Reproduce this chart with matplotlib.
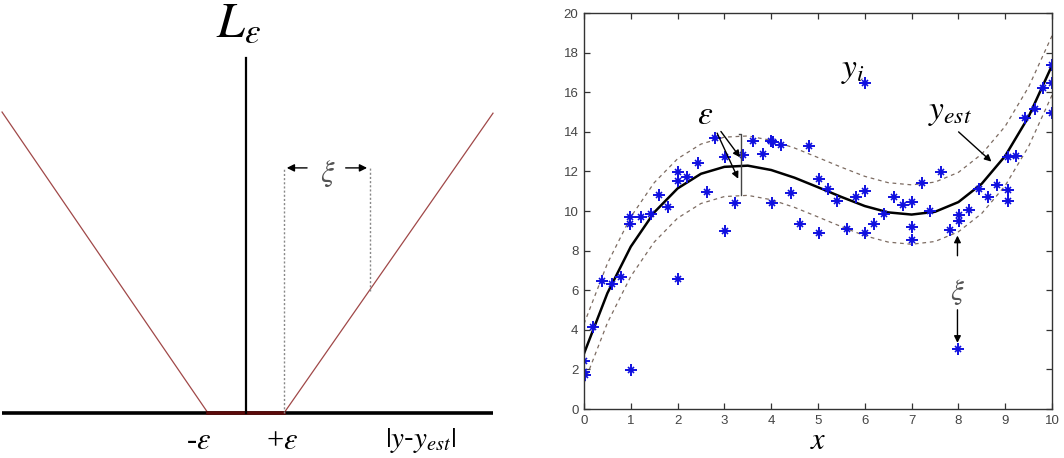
import matplotlib
matplotlib.use("Agg")
import matplotlib.pyplot as plt
import numpy as np

plt.rcParams.update({
    "font.family": "Liberation Sans",
    "mathtext.fontset": "stix",
})

# ---- left panel: epsilon-insensitive loss (residual units, eps = 1) ----
LOSS_R = [-6.42, -1.0, 1.0, 6.5]
LOSS_L = [7.92, 0.0, 0.0, 7.89]
EPS_L = 1.0
AXIS_R = [-6.42, 6.5]
AXIS_TOP = 9.34
XI_R = 3.26        # second dotted line
XI_LOSS = 3.2      # where it meets the loss line
XI_TOP = 6.45

# ---- right panel: SVR fit ----
CURVE_X = [0, 0.5, 1, 1.5, 2, 2.5, 3, 3.5, 4, 4.5, 5, 5.5, 6, 6.5, 7, 7.5, 8,
           8.5, 9, 9.5, 10]
CURVE_Y = [2.8, 5.85, 8.2, 9.93, 11.14, 11.88, 12.23, 12.29, 12.07, 11.68,
           11.2, 10.71, 10.25, 9.93, 9.82, 9.96, 10.45, 11.38, 12.78, 14.76, 17.35]
EPS_R = 1.5

PTS_X = [0.00, 0.00, 0.02, 0.20, 0.39, 0.60, 0.80, 0.99, 0.99, 1.00, 1.21, 1.43,
         1.60, 1.80, 2.01, 2.01, 2.01, 2.21, 2.43, 2.62, 2.80, 3.01, 3.01, 3.23,
         3.39, 3.62, 3.83, 3.99, 4.04, 4.01, 4.21, 4.42, 4.61, 4.81, 5.02, 5.02,
         5.21, 5.41, 5.61, 5.82, 6.01, 6.01, 6.00, 6.20, 6.41, 6.62, 6.81, 7.01,
         7.01, 7.01, 7.23, 7.40, 7.62, 7.82, 8.01, 8.01, 8.00, 8.23, 8.44, 8.63,
         8.83, 9.06, 9.06, 9.06, 9.24, 9.43, 9.64, 9.81, 10.00, 10.00, 10.00]
PTS_Y = [2.44, 1.85, 1.70, 4.12, 6.47, 6.33, 6.65, 9.68, 9.35, 1.98, 9.70, 9.83,
         10.79, 10.19, 11.99, 11.53, 6.59, 11.73, 12.41, 10.96, 13.70, 12.72, 8.97, 10.40,
         12.84, 13.55, 12.88, 13.53, 13.48, 10.40, 13.34, 10.93, 9.32, 13.27, 11.61, 8.91,
         11.10, 10.48, 9.11, 10.69, 11.00, 8.91, 16.45, 9.32, 9.86, 10.69, 10.30, 10.43,
         9.21, 8.54, 11.41, 10.01, 11.98, 9.03, 9.50, 9.78, 3.01, 10.07, 11.10, 10.70,
         11.31, 11.06, 10.50, 12.71, 12.76, 14.70, 15.13, 16.21, 17.37, 16.45, 14.93]

XTICKS = list(range(0, 11))
YTICKS = list(range(0, 21, 2))

fig = plt.figure(figsize=(10.64, 4.58), dpi=100)

# ================= left diagram =================
axl = fig.add_axes([0, 0, 500 / 1064, 1])
axl.set_xlim(-246 / 38, 254 / 38)
axl.set_ylim(-45 / 38, 413 / 38)
axl.axis("off")

axl.plot(LOSS_R[:2], LOSS_L[:2], color="#a04848", lw=0.9)
axl.plot(LOSS_R[2:], LOSS_L[2:], color="#a04848", lw=0.9)
axl.plot(AXIS_R, [0, 0], color="black", lw=2.6, solid_capstyle="butt")
axl.plot(LOSS_R[1:3], LOSS_L[1:3], color="#5a0a0a", lw=2.6)
axl.plot([0, 0], [0, AXIS_TOP], color="black", lw=1.6)
axl.plot([EPS_L, EPS_L], [0, XI_TOP], color="#888888", lw=1.0, ls=(0, (1.5, 1.5)))
axl.plot([XI_R, XI_R], [XI_LOSS, XI_TOP], color="#888888", lw=1.0, ls=(0, (1.5, 1.5)))
arw = dict(arrowstyle="-|>", color="black", lw=1.0, mutation_scale=11)
axl.annotate("", xy=(EPS_L, XI_TOP), xytext=(EPS_L + 0.68, XI_TOP), arrowprops=arw)
axl.annotate("", xy=(XI_R, XI_TOP), xytext=(XI_R - 0.71, XI_TOP), arrowprops=arw)
axl.text((EPS_L + XI_R) / 2 + 0.03, XI_TOP - 0.15, r"$\xi$", fontsize=22,
         color="#555555", ha="center", va="center")
axl.text(-0.2, 10.25, r"$L_{\varepsilon}$", fontsize=36, ha="center", va="center")
axl.text(-EPS_L - 0.25, -0.75, r"-$\varepsilon$", family="Liberation Serif",
         fontsize=22, ha="center", va="center")
axl.text(EPS_L - 0.05, -0.75, r"+$\varepsilon$", family="Liberation Serif",
         fontsize=22, ha="center", va="center")
axl.text(4.6, -0.72, r"$|y$-$y_{est}|$", fontsize=21, ha="center", va="center")

# ================= right plot =================
axr = fig.add_axes([584 / 1064, 49 / 458, 468 / 1064, 396 / 458])
cx = np.array(CURVE_X)
cy = np.array(CURVE_Y)
band = dict(color="#7d6c62", lw=0.9, ls=(0, (3, 3)))
axr.plot(cx, cy + EPS_R, **band)
axr.plot(cx, cy - EPS_R, **band)
axr.plot(cx, cy, color="black", lw=1.8)
axr.plot(PTS_X, PTS_Y, ls="none", marker="+", ms=9, mew=1.4, color="#1010e0")
axr.plot(PTS_X, PTS_Y, ls="none", marker="x", ms=5, mew=1.2, color="#1010e0")

axr.set_xlim(0, 10)
axr.set_ylim(0, 20)
axr.set_xticks(XTICKS)
axr.set_yticks(YTICKS)
axr.tick_params(direction="in", length=4, width=0.9, top=True, right=True,
                labelsize=9.5, labelcolor="#444444", color="#333333", pad=4)
for s in axr.spines.values():
    s.set_color("#333333")
    s.set_linewidth(1.0)

# epsilon bar and annotations
axr.plot([3.31, 3.35, 3.35], [13.9, 13.9, 10.8], color="#444444", lw=1.0)
arw2 = dict(arrowstyle="-|>", color="black", lw=1.0, mutation_scale=10)
axr.annotate("", xy=(3.37, 12.6), xytext=(2.89, 14.13), arrowprops=arw2)
axr.annotate("", xy=(3.32, 11.5), xytext=(2.82, 14.06), arrowprops=arw2)
axr.text(2.59, 14.8, r"$\varepsilon$", fontsize=24, ha="center", va="center")
axr.text(5.75, 17.1, r"$y_i$", fontsize=24, ha="center", va="center")
axr.text(7.82, 15.0, r"$y_{est}$", fontsize=24, ha="center", va="center")
axr.annotate("", xy=(8.75, 12.4), xytext=(7.96, 14.09), arrowprops=arw2)
axr.text(7.97, 5.9, r"$\xi$", fontsize=21, color="#555555", ha="center", va="center")
axr.annotate("", xy=(7.98, 8.9), xytext=(7.98, 7.6), arrowprops=arw2)
axr.annotate("", xy=(7.98, 3.2), xytext=(7.98, 5.15), arrowprops=arw2)

fig.text(818 / 1064, 2 / 458, r"$x$", fontsize=22, ha="center", va="bottom")

fig.savefig("out.png", dpi=100)
